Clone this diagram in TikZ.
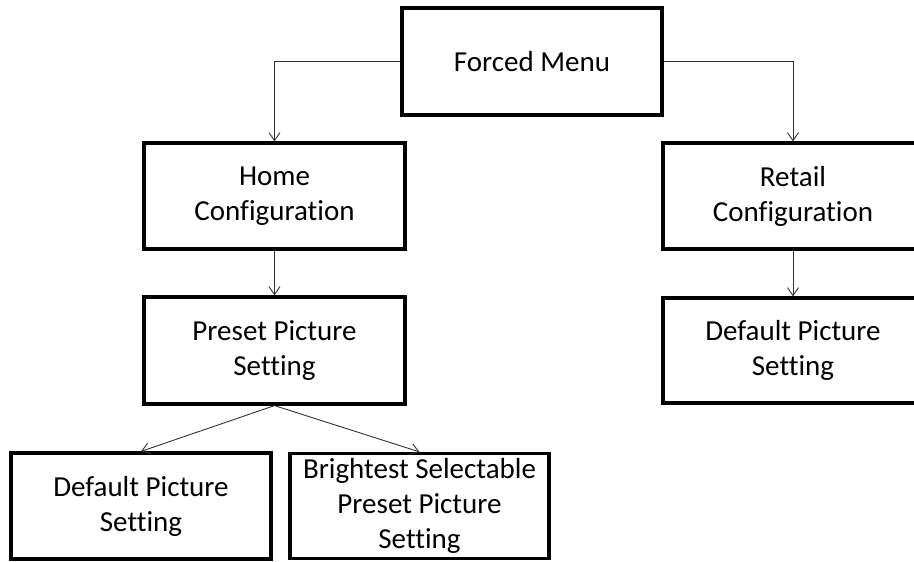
\documentclass[tikz,border=0pt]{standalone}
\usepackage{fontspec}
\setmainfont[RawFeature=-liga]{Carlito}
\usetikzlibrary{arrows.meta}
\begin{document}
\begin{tikzpicture}[x=1pt,y=1pt,
  box/.style={draw=black,line width=3.2pt,rectangle,inner sep=0pt,align=center,
    font=\fontsize{29}{35}\selectfont},
  conn/.style={draw=black!80,line width=0.9pt,-{Straight Barb[length=8pt,width=11pt,line width=0.9pt]}}]
\useasboundingbox (0,0) rectangle (914,-562);
\node[box,minimum width=260pt,minimum height=107pt] (fm) at (532,-61.5) {Forced Menu};
\node[box,minimum width=261pt,minimum height=106pt] (home) at (274.5,-196) {Home\\Configuration};
\node[box,minimum width=261pt,minimum height=107pt] (preset) at (274.5,-350.5) {Preset Picture\\Setting};
\node[box,minimum width=260pt,minimum height=106pt] (retail) at (793,-196) {Retail\\Configuration};
\node[box,minimum width=260pt,minimum height=105pt] (rdef) at (793,-350.5) {Default Picture\\Setting};
\node[box,minimum width=260pt,minimum height=106pt] (dl) at (141,-506) {Default Picture\\Setting};
\node[box,minimum width=259pt,minimum height=105pt] (br) at (419.5,-506) {Brightest Selectable\\Preset Picture\\Setting};
\draw[conn] (fm.west) -| (home.north);
\draw[conn] (fm.east) -| (retail.north);
\draw[conn] (home.south) -- (preset.north);
\draw[conn] (retail.south) -- (rdef.north);
\draw[conn] (preset.south) -- (dl.north);
\draw[conn] (preset.south) -- (br.north);
\end{tikzpicture}
\end{document}
